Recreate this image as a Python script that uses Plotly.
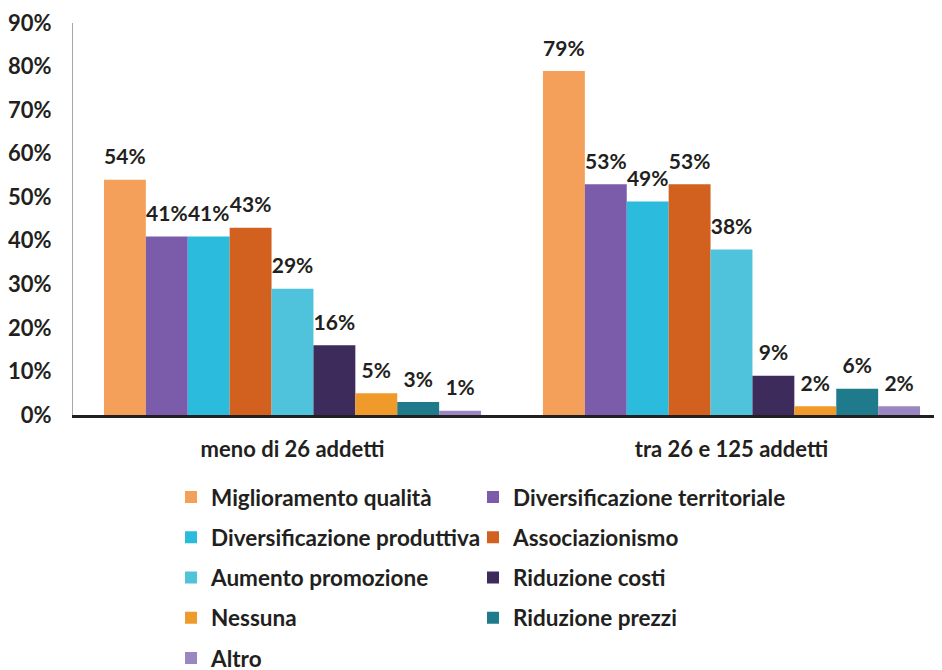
import plotly.graph_objects as go

# groups on the x axis
categories = ["meno di 26 addetti", "tra 26 e 125 addetti"]

# one series per answer, values as shares (0..1)
series_names = [
    "Miglioramento qualità",
    "Diversificazione territoriale",
    "Diversificazione produttiva",
    "Associazionismo",
    "Aumento promozione",
    "Riduzione costi",
    "Nessuna",
    "Riduzione prezzi",
    "Altro",
]
miglioramento_qualita = [0.54, 0.79]
diversificazione_territoriale = [0.41, 0.53]
diversificazione_produttiva = [0.41, 0.49]
associazionismo = [0.43, 0.53]
aumento_promozione = [0.29, 0.38]
riduzione_costi = [0.16, 0.09]
nessuna = [0.05, 0.02]
riduzione_prezzi = [0.03, 0.06]
altro = [0.01, 0.02]

series_values = [
    miglioramento_qualita,
    diversificazione_territoriale,
    diversificazione_produttiva,
    associazionismo,
    aumento_promozione,
    riduzione_costi,
    nessuna,
    riduzione_prezzi,
    altro,
]

colors = [
    "#F4A05A",
    "#7A5CAB",
    "#2BBBDD",
    "#D2601F",
    "#4EC3DB",
    "#3D2B5C",
    "#F09A2C",
    "#1F7A8C",
    "#9A86C0",
]

FONT = "Lato, 'Open Sans', sans-serif"
TXT = "#231F20"
FS = 21

fig = go.Figure()
for i, (name, vals) in enumerate(zip(series_names, series_values)):
    fig.add_trace(
        go.Bar(
            x=categories,
            y=vals,
            name=name,
            marker=dict(color=colors[i], line=dict(width=0)),
            # small base font + empty second line lifts the label off the bar
            texttemplate=f"<span style='font-size:{FS}px'><b>%{{y:.0%}}</b></span><br> ",
            textposition="outside",
            constraintext="none",
            textfont=dict(family=FONT, size=8, color=TXT),
            cliponaxis=False,
            # left legend column takes even entries, right column odd ones
            legend="legend" if i % 2 == 0 else "legend2",
            legendgroup=name,
        )
    )

# page body adds an 8px offset, so the plot area lands at 73..942 x 23..415
legend_common = dict(
    orientation="v",
    y=-0.155,
    yanchor="top",
    xanchor="left",
    tracegroupgap=8,
    font=dict(family=FONT, size=22.5, color=TXT, weight="bold"),
    bgcolor="rgba(0,0,0,0)",
    itemclick=False,
)

fig.update_layout(
    width=942,
    height=670,
    barmode="group",
    bargap=0.141,
    bargroupgap=0,
    plot_bgcolor="white",
    paper_bgcolor="white",
    margin=dict(l=65, r=8, t=15, b=263, autoexpand=False),
    font=dict(family=FONT, color=TXT),
    legend=dict(legend_common, x=0.1128),
    legend2=dict(legend_common, x=0.4603),
    xaxis=dict(
        range=[-0.5, 1.4795],
        showline=True,
        linecolor="#231F20",
        linewidth=3,
        tickmode="array",
        tickvals=categories,
        ticktext=[f"<b>{c}</b>" for c in categories],
        tickfont=dict(family=FONT, size=22, color=TXT),
        ticklabelstandoff=13,
        ticks="",
        showgrid=False,
    ),
    yaxis=dict(
        range=[0, 0.9],
        dtick=0.1,
        tickformat=".0%",
        showgrid=False,
        zeroline=False,
        showline=True,
        linecolor="#A6A6A6",
        linewidth=1,
        ticks="",
        ticklabelstandoff=16,
        tickfont=dict(family=FONT, size=22, color=TXT, weight="bold"),
    ),
)

fig.write_html("out.html")
